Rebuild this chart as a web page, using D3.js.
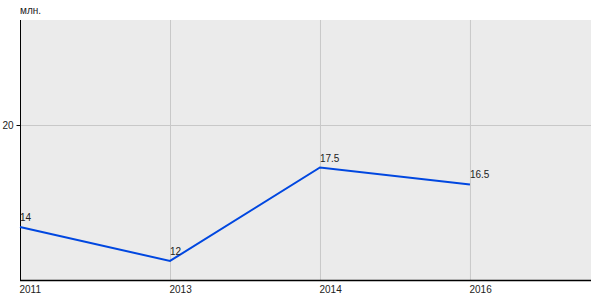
<!DOCTYPE html>
<html><head><meta charset="utf-8">
<script src="https://cdn.jsdelivr.net/npm/d3@7"></script>
<style>body{margin:0;background:#fff}svg{display:block;font-family:"Liberation Sans",Arial,sans-serif}</style>
</head><body>
<svg id="c" width="600" height="300"></svg>
<script>
const categories = ["2011","2013","2014","2016"];
const values = [14, 12, 17.5, 16.5];
const yTicks = [20];
const unitLabel = "млн.";

const svg = d3.select("#c");
const L = 20, R = 591, T = 20, B = 280;
const x = d3.scaleLinear().domain([0, 3.807]).range([L, R]);
const y = d3.scaleLinear().domain([10.88, 26.18]).range([B, T]);

svg.append("rect").attr("x", L).attr("y", T).attr("width", R - L).attr("height", B - T).attr("fill", "#ebebeb");

// vertical gridlines
svg.selectAll(".vg").data(categories.slice(1)).enter().append("line")
  .attr("x1", (d,i) => x(i+1)+0.5).attr("x2", (d,i) => x(i+1)+0.5)
  .attr("y1", T).attr("y2", B).attr("stroke", "#c8c8c8").attr("stroke-width", 1);
// horizontal gridlines
svg.selectAll(".hg").data(yTicks).enter().append("line")
  .attr("x1", L).attr("x2", R).attr("y1", d => Math.round(y(d))+0.5).attr("y2", d => Math.round(y(d))+0.5)
  .attr("stroke", "#c8c8c8").attr("stroke-width", 1);

// y axis
const yAxis = d3.axisLeft(y).tickValues(yTicks).tickSize(4).tickPadding(3).tickFormat(d3.format("d"));
const gy = svg.append("g").attr("transform", `translate(${L+0.5},0)`).call(yAxis);
gy.select(".domain").attr("d", `M0,${T}V${B}`).attr("stroke", "#000");
gy.selectAll("text").attr("font-size", 10).attr("fill", "#222").attr("font-family", '"Liberation Sans",Arial,sans-serif');

// x axis
const xAxis = d3.axisBottom(x).tickValues(d3.range(categories.length)).tickSize(0).tickPadding(5).tickFormat(i => categories[i]);
const gx = svg.append("g").attr("transform", `translate(0,${B+0.5})`).call(xAxis);
gx.select(".domain").attr("d", `M${L},0H${R}`).attr("stroke", "#000").attr("stroke-width", 1.5);
gx.selectAll("text").attr("text-anchor", "start").attr("dx", -1).attr("font-size", 10).attr("fill", "#222").attr("font-family", '"Liberation Sans",Arial,sans-serif');

// line
const line = d3.line().x((d,i) => x(i)).y(d => y(d));
svg.append("path").datum(values).attr("d", line).attr("fill", "none").attr("stroke", "#0047e0").attr("stroke-width", 2);

// data labels
svg.selectAll(".lbl").data(values).enter().append("text")
  .attr("x", (d,i) => x(i)).attr("y", d => y(d) - 6)
  .attr("font-size", 10).attr("fill", "#222").text(d => d);

svg.append("text").attr("x", L).attr("y", 14).attr("font-size", 10).attr("fill", "#222").text(unitLabel);
</script>
</body></html>
